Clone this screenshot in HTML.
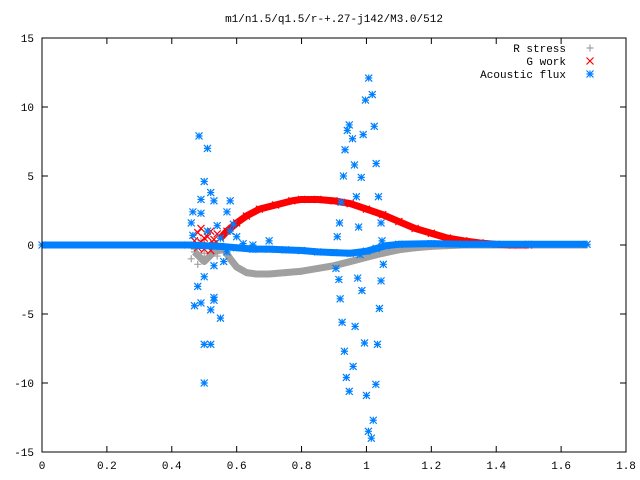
<!DOCTYPE html>
<html><head><meta charset="utf-8"><style>
body{margin:0;background:#fff}
svg{display:block;font-family:"Liberation Mono","DejaVu Sans Mono",monospace;font-size:11px}
</style></head><body>
<svg id="chart" width="640" height="480" viewBox="0 0 640 480" xmlns="http://www.w3.org/2000/svg">
<rect width="640" height="480" fill="#fff"/>
<text x="334" y="22" text-anchor="middle">m1/n1.5/q1.5/r-+.27-j142/M3.0/512</text>
<g id="axes"></g>
<g id="series"></g>
<rect x="42" y="38" width="584" height="414" fill="none" stroke="#000"/>
<g id="legend"></g>
</svg>
<script>
const xTicks=[0,0.2,0.4,0.6,0.8,1,1.2,1.4,1.6,1.8];
const xTickLabels=["0","0.2","0.4","0.6","0.8","1","1.2","1.4","1.6","1.8"];
const yTicks=[-15,-10,-5,0,5,10,15];
const yTickLabels=["-15","-10","-5","0","5","10","15"];
const seriesNames=["R stress","G work","Acoustic flux"];
// R stress curve (x, y)
const rX=[0.47,0.5,0.53,0.56,0.58,0.6,0.63,0.66,0.7,0.75,0.8,0.85,0.9,0.95,1.0,1.05,1.1,1.15,1.2,1.25,1.3,1.4,1.5,1.68];
const rY=[-0.5,-1.2,-0.5,-0.3,-1.0,-1.6,-2.0,-2.1,-2.1,-2.0,-1.9,-1.7,-1.5,-1.2,-0.9,-0.6,-0.35,-0.2,-0.1,-0.05,0,0,0,0];
// G work curve
const gX=[0.55,0.57,0.6,0.63,0.67,0.72,0.77,0.8,0.85,0.9,0.95,1.0,1.05,1.1,1.15,1.2,1.25,1.3,1.35,1.4,1.45,1.5];
const gY=[0.5,1.0,1.6,2.1,2.6,2.9,3.2,3.3,3.3,3.2,3.0,2.6,2.2,1.7,1.2,0.85,0.5,0.3,0.15,0.05,0,0];
// G work scattered near x~0.5
const gSX=[0.47,0.48,0.49,0.5,0.51,0.52,0.53,0.54,0.48,0.5,0.52,0.49,0.51,0.53];
const gSY=[0.3,0.9,0.2,-0.3,0.6,1.0,0.4,0.8,-0.2,0.5,-0.4,1.2,0.0,0.1];
// R stress scattered near x~0.5
const rSX=[0.46,0.48,0.5,0.52,0.54,0.49,0.51,0.55,0.47,0.53];
const rSY=[-1.0,-1.4,-0.6,-0.2,-0.8,0.3,0.9,0.5,-0.3,0.2];
// Acoustic flux baseline curve
const aX=[0,0.45,0.55,0.6,0.65,0.7,0.75,0.8,0.85,0.9,0.95,1.0,1.03,1.06,1.1,1.2,1.3,1.5,1.68];
const aY=[0,0,-0.1,-0.2,-0.3,-0.3,-0.35,-0.4,-0.5,-0.55,-0.6,-0.45,-0.25,-0.05,0.05,0.1,0.05,0.05,0.05];
// Acoustic flux scatter
const aSX=[0.484,0.50,0.49,0.52,0.49,0.51,0.53,0.465,0.46,0.465,0.5,0.48,0.47,0.53,0.52,0.55,0.49,0.53,0.50,0.52,0.50,0.57,0.58,0.54,0.59,0.51,0.55,0.53,0.56,0.57,0.58,0.60,0.62,0.65,0.70,
1.007,1.018,0.997,0.947,0.941,0.957,0.99,1.024,0.934,0.963,1.03,0.929,0.984,0.969,1.037,0.922,0.917,0.976,1.045,0.91,1.048,0.98,0.906,1.052,0.915,0.973,1.045,0.986,0.919,1.04,0.925,0.965,0.994,1.034,0.932,0.959,0.938,1.029,0.947,1.0,1.021,1.006,1.015];
const aSY=[7.9,4.6,3.3,3.8,2.3,7.0,3.2,2.4,1.6,0.7,-2.3,-3.0,-4.4,-3.8,-4.7,-5.3,-4.2,-4.0,-7.2,-7.2,-10.0,2.4,3.2,1.4,1.5,1.0,0.5,-1.5,-1.2,-0.5,1.0,0.6,0.1,0.0,0.3,
12.1,10.9,10.5,8.7,8.3,7.7,8.0,8.6,6.9,5.8,5.9,5.0,4.9,3.5,3.5,3.1,1.6,1.3,1.6,0.6,0.3,-0.7,-1.7,-1.4,-2.5,-2.4,-2.6,-3.3,-3.9,-4.6,-5.6,-5.9,-7.1,-7.2,-7.7,-8.8,-9.6,-10.1,-10.6,-10.9,-12.7,-13.5,-14.0];

const NS="http://www.w3.org/2000/svg";
const L=42,R=626,T=38,B=452;
function sx(v){return L+(v-0)/(1.8-0)*(R-L);}
function sy(v){return B-(v+15)/30*(B-T);}
function mk(tag,attrs,parent){const e=document.createElementNS(NS,tag);for(const k in attrs)e.setAttribute(k,attrs[k]);parent.appendChild(e);return e;}
const axes=document.getElementById('axes'),ser=document.getElementById('series'),leg=document.getElementById('legend');
xTicks.forEach((t,i)=>{const x=sx(t);
 const a=mk('line',{x1:x,y1:B,x2:x,y2:B-6,stroke:'#000'},axes);
 
 
 mk('line',{x1:x,y1:T,x2:x,y2:T+6,stroke:'#000'},axes);
 const tx=mk('text',{x:x,y:469,'text-anchor':'middle'},axes);tx.textContent=xTickLabels[i];
 
 });
yTicks.forEach((t,i)=>{const y=sy(t);
 const a=mk('line',{x1:L,y1:y,x2:L+6,y2:y,stroke:'#000'},axes);
 
 
 mk('line',{x1:R,y1:y,x2:R-6,y2:y,stroke:'#000'},axes);
 const tx=mk('text',{x:34,y:y+4,'text-anchor':'end'},axes);tx.textContent=yTickLabels[i];
 
 });
function marker(type,x,y,c,g){const s=3.5;let d;
 if(type==='plus')d=`M${x-s},${y}H${x+s}M${x},${y-s}V${y+s}`;
 else if(type==='cross')d=`M${x-s},${y-s}L${x+s},${y+s}M${x-s},${y+s}L${x+s},${y-s}`;
 else d=`M${x-s},${y}H${x+s}M${x},${y-s}V${y+s}M${x-s},${y-s}L${x+s},${y+s}M${x-s},${y+s}L${x+s},${y-s}`;
 const p=mk('path',{d:d,stroke:c,'stroke-width':1.2,fill:'none'},g);
 
 }
function series(name,xs,ys,sxs,sys,type,c,w){const g=mk('g',{},ser);
 
 
 const pts=xs.map((v,i)=>sx(v)+','+sy(ys[i])).join(' ');
 mk('polyline',{points:pts,fill:'none',stroke:c,'stroke-width':w,'stroke-linejoin':'round'},g);
 xs.forEach((v,i)=>marker(type,sx(v),sy(ys[i]),c,g));
 sxs.forEach((v,i)=>marker(type,sx(v),sy(sys[i]),c,g));}
series('r-stress-series',rX,rY,rSX,rSY,'plus','#a0a0a0',7);
series('g-work-series',gX,gY,gSX,gSY,'cross','#ff0000',7);
series('acoustic-flux-series',aX,aY,aSX,aSY,'star','#0080ff',7);
const cols=['#a0a0a0','#ff0000','#0080ff'],types=['plus','cross','star'];
seriesNames.forEach((n,i)=>{const y=48+i*13;const g=mk('g',{},leg);
 
 
 const t=mk('text',{x:566,y:y+4,'text-anchor':'end'},g);t.textContent=n;
 marker(types[i],590,y,cols[i],g);});
</script>
</body></html>
